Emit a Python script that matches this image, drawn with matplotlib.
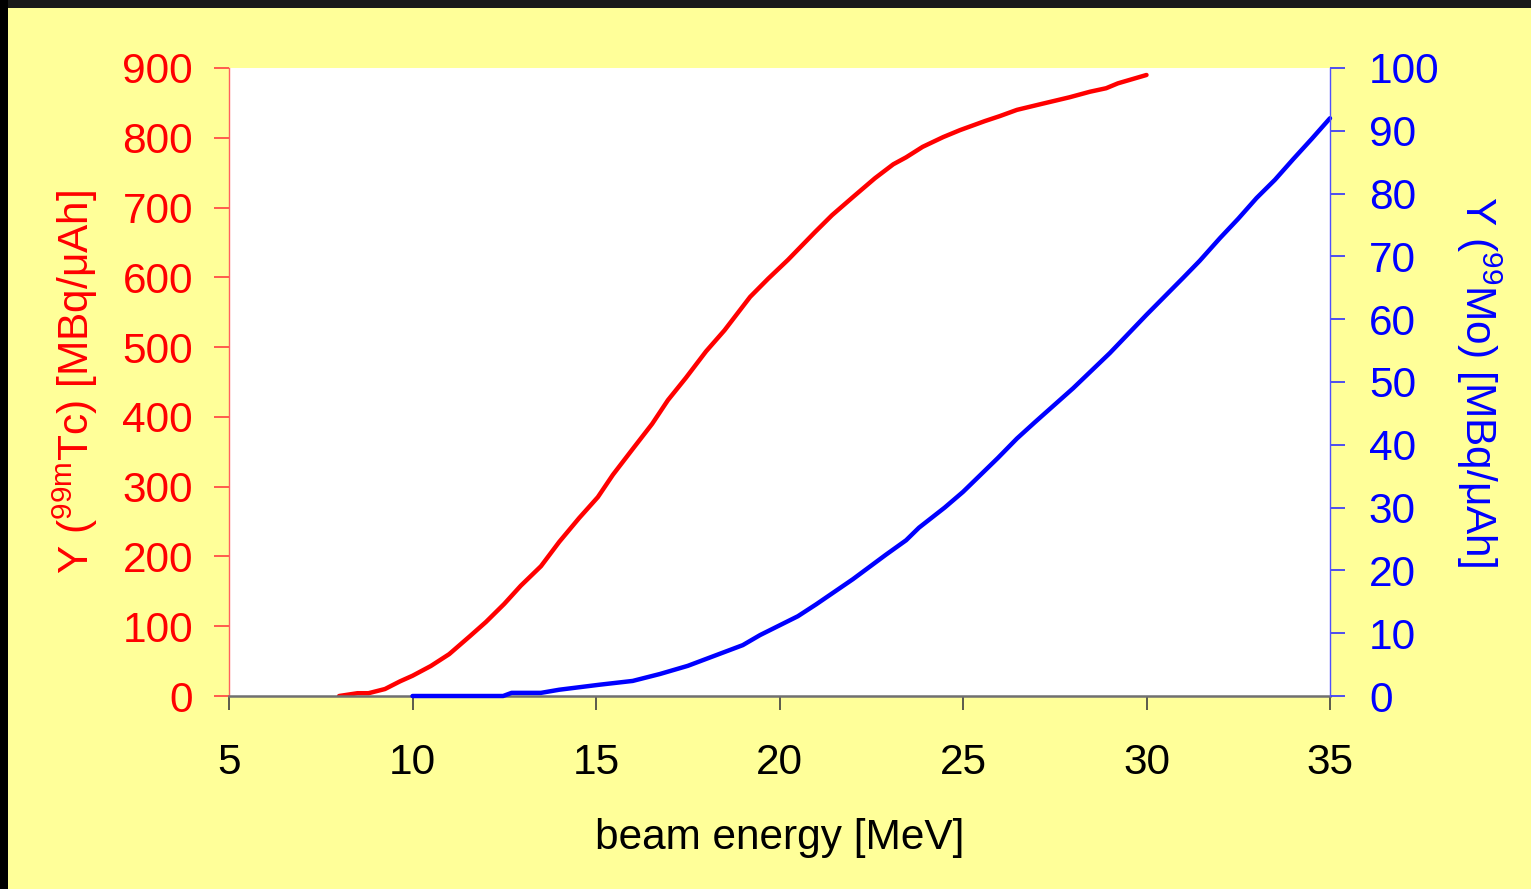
import matplotlib
matplotlib.use("Agg")
import matplotlib.pyplot as plt
from matplotlib.patches import Rectangle

plt.rcParams['font.family'] = ['Liberation Sans', 'DejaVu Sans']
plt.rcParams['mathtext.fontset'] = 'custom'
plt.rcParams['mathtext.rm'] = 'Liberation Sans'

# yield of 99mTc (direct) vs beam energy
tc_energy = [8.0, 8.5, 8.8, 9.25, 9.66, 10.0, 10.5, 11.0, 11.57, 12.0, 12.5, 12.95,
             13.5, 14.0, 14.54, 15.05, 15.46, 16.0, 16.53, 16.96, 17.45, 18.0, 18.5,
             19.2, 19.69, 20.23, 20.97, 21.43, 22.0, 22.6, 23.1, 23.45, 23.9, 24.46,
             24.92, 25.6, 26.0, 26.47, 27.1, 27.9, 28.46, 28.9, 29.22, 30.0]
tc_yield = [0, 4, 4, 10, 21, 29, 43, 60, 86, 106, 132, 158,
            186, 221, 255, 285, 317, 354, 390, 424, 456, 494, 524,
            572, 598, 625, 665, 689, 715, 742, 762, 772, 787, 801,
            811, 824, 831, 840, 848, 858, 866, 871, 878, 890]

# yield of 99Mo vs beam energy
mo_energy = [10.0, 12.47, 12.7, 13.5, 14.0, 15.1, 16.0, 16.74, 17.5, 18.0, 19.0,
             19.47, 20.5, 21.0, 22.0, 22.9, 23.45, 23.8, 24.5, 25.0, 25.95, 26.47,
             26.96, 28.0, 29.0, 30.0, 31.0, 31.45, 32.0, 32.5, 33.0, 33.5, 34.0,
             34.5, 35.0]
mo_yield = [0, 0, 0.5, 0.5, 1.0, 1.8, 2.4, 3.5, 4.8, 5.9, 8.1,
            9.7, 12.7, 14.6, 18.6, 22.5, 24.8, 26.8, 30.0, 32.5, 37.9, 41.0,
            43.6, 49.0, 54.6, 60.7, 66.6, 69.3, 72.9, 76.0, 79.3, 82.2, 85.5,
            88.7, 92.0]

x_ticks = [5, 10, 15, 20, 25, 30, 35]
tc_ticks = [0, 100, 200, 300, 400, 500, 600, 700, 800, 900]
mo_ticks = [0, 10, 20, 30, 40, 50, 60, 70, 80, 90, 100]

W, H = 1531, 889
fig = plt.figure(figsize=(W / 100, H / 100), dpi=100, facecolor='#1a1a1a')
fig.patches.append(Rectangle((0, 0), 8 / W, 1, transform=fig.transFigure,
                             facecolor='black', edgecolor='none', zorder=-2))
fig.patches.append(Rectangle((8 / W, 0), 1, 1 - 8 / H, transform=fig.transFigure,
                             facecolor='#ffff99', edgecolor='none', zorder=-1))

ax = fig.add_axes([229 / W, 1 - 696 / H, (1330 - 229) / W, (696 - 68) / H])
ax.set_facecolor('white')
ax2 = ax.twinx()

ax.plot(tc_energy, tc_yield, color='#ff0000', lw=3.2, solid_capstyle='round')
ax2.plot(mo_energy, mo_yield, color='#0000ff', lw=3.2, solid_capstyle='round',
         clip_on=False)

ax.set_xlim(5, 35)
ax.set_ylim(0, 900)
ax2.set_ylim(0, 100)
ax.set_xticks(x_ticks)
ax.set_yticks(tc_ticks)
ax2.set_yticks(mo_ticks)

for a in (ax, ax2):
    a.spines['top'].set_visible(False)
ax.spines['right'].set_visible(False)
ax2.spines['left'].set_visible(False)
ax2.spines['bottom'].set_visible(False)
ax.spines['bottom'].set_color('#707070')
ax.spines['bottom'].set_linewidth(1.8)
ax.spines['left'].set_color('#ff6060')
ax.spines['left'].set_linewidth(1.0)
ax2.spines['right'].set_color('#5050ff')
ax2.spines['right'].set_linewidth(1.0)

ax.tick_params(axis='x', direction='out', length=10, width=1.2, color='#404040',
               labelsize=30.5, labelcolor='black', pad=24)
ax.tick_params(axis='y', direction='out', length=11, width=1.2, color='#ff4040',
               labelsize=30.5, labelcolor='#ff0000', pad=15)
ax2.tick_params(axis='y', direction='out', length=11, width=1.2, color='#3030ff',
                labelsize=30.5, labelcolor='#0000ff', pad=17)

ax.set_xlabel('beam energy [MeV]', fontsize=30.5, color='black', labelpad=25)
ax.set_ylabel(r'Y ($^{\mathregular{99m}}$Tc) [MBq/μAh]', fontsize=30.5,
              color='#ff0000', labelpad=16)
ax2.set_ylabel(r'Y ($^{\mathregular{99}}$Mo) [MBq/μAh]', fontsize=30.5,
               color='#0000ff', rotation=-90, labelpad=46)

fig.savefig('out.png', dpi=100, facecolor=fig.get_facecolor())
